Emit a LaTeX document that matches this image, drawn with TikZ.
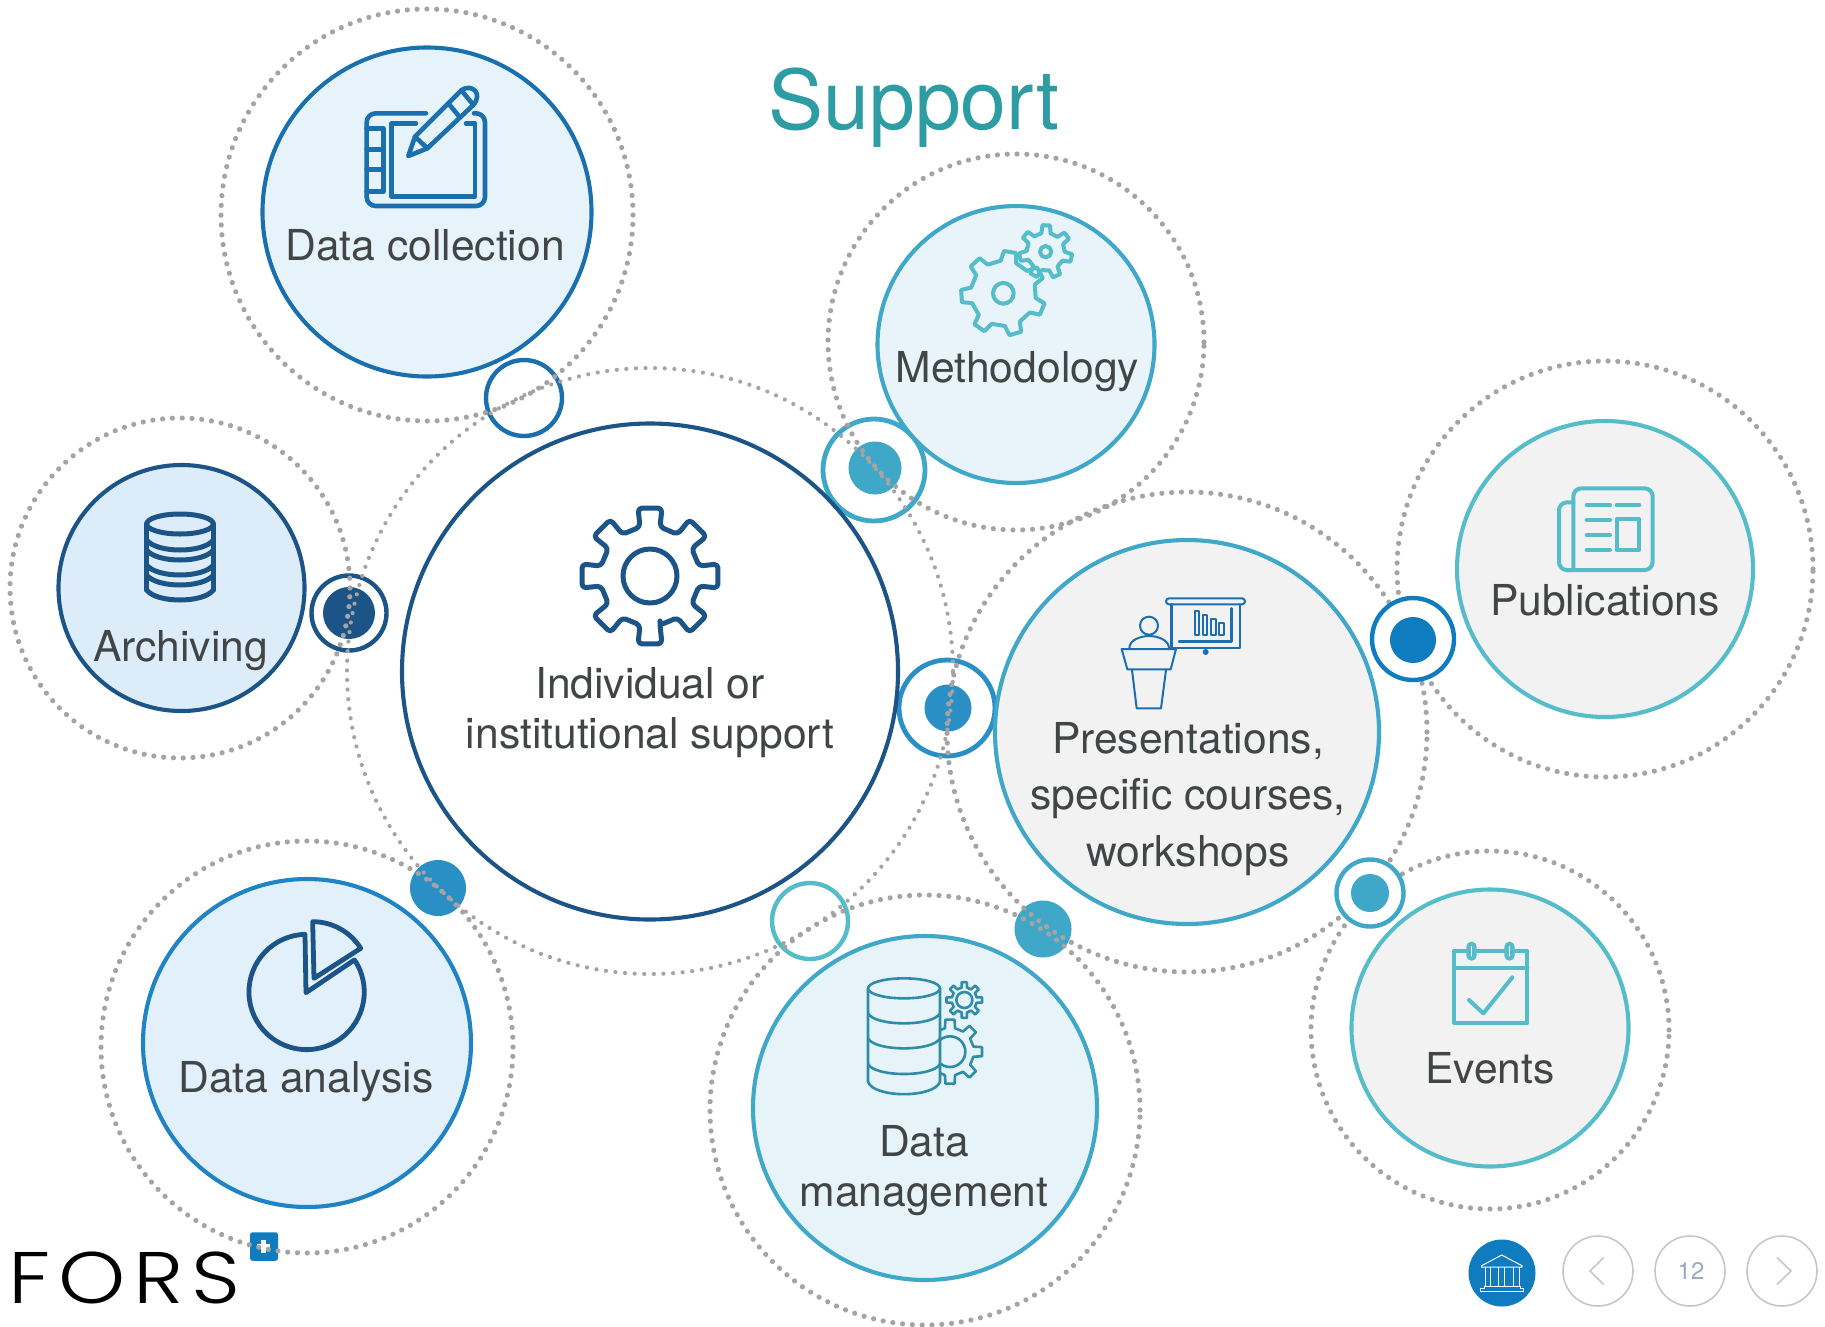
\documentclass[tikz,border=0pt]{standalone}
\usepackage{fontspec}
\setmainfont{TeX Gyre Heros}
\newfontfamily\forsfont[LetterSpace=11,FakeStretch=1.17]{Poppins Light}
\definecolor{txt}{HTML}{414546}
\definecolor{dots}{HTML}{A4A4A4}
\definecolor{navy}{HTML}{1C5488}
\definecolor{midblue}{HTML}{1A6FAE}
\definecolor{skyblue}{HTML}{1F83C5}
\definecolor{cyanb}{HTML}{3FA7C8}
\definecolor{tealb}{HTML}{54BDC9}
\definecolor{blob}{HTML}{2A8FC4}
\definecolor{solidb}{HTML}{0F7CC0}
\definecolor{paleA}{HTML}{E6F3FB}
\definecolor{paleB}{HTML}{E8F4F9}
\definecolor{paleC}{HTML}{DCEDF9}
\definecolor{paleD}{HTML}{E1F0FA}
\definecolor{paleE}{HTML}{E6F3F8}
\definecolor{greyf}{HTML}{F2F2F2}
\definecolor{titlecol}{HTML}{2E9CA3}
\definecolor{pagecol}{HTML}{9AA8C0}
\definecolor{mgmtcol}{HTML}{2F8CA8}
\tikzset{
  dotring/.style={circle,inner sep=0pt,draw=dots,line width=5.2pt,line cap=round,dash pattern=on 0.01pt off 9.8pt},
  dotringthin/.style={circle,inner sep=0pt,draw=dots,line width=4.2pt,line cap=round,dash pattern=on 0.01pt off 9.6pt},
  bubble/.style={circle,inner sep=0pt,line width=4.1pt},
  joint/.style={circle,inner sep=0pt,line width=4.4pt,fill=white},
  blobdot/.style={circle,inner sep=0pt,draw=none},
  lbl/.style={text=txt,font=\fontsize{42.6}{50}\selectfont,align=center,inner sep=0pt},
  navbtn/.style={circle,inner sep=0pt,draw=black!22,line width=1.6pt,minimum size=70pt},
  ico/.style={line join=round,line cap=round}
}
\begin{document}
\begin{tikzpicture}[x=1pt,y=-1pt]
\useasboundingbox[fill=white] (0,0) rectangle (1825,1326);

% connector discs under the dotted rings
\node[joint,draw=midblue,minimum size=76pt] (jA) at (524,398) {};
\node[joint,draw=cyanb,line width=4.8pt,minimum size=102pt] (jB) at (874,470) {};
\node[blobdot,fill=cyanb,minimum size=53pt] (jBi) at (875,468) {};
\node[joint,draw=navy,minimum size=75pt] (jC) at (349,613) {};
\node[blobdot,fill=navy,minimum size=52pt] (jCi) at (349,613) {};
\node[joint,draw=blob,line width=4.8pt,minimum size=96pt] (jD) at (947,708) {};
\node[blobdot,fill=blob,minimum size=47pt] (jDi) at (948,708) {};
\node[blobdot,fill=blob,minimum size=56pt] (jG) at (438,888) {};
\node[blobdot,fill=cyanb,minimum size=57pt] (jH) at (1043,929) {};
\node[joint,draw=tealb,minimum size=76pt] (jI) at (810,921) {};

% plus badge
\node[fill=solidb,rounded corners=2.5pt,minimum width=28pt,minimum height=28.5pt,inner sep=0pt] (badge) at (264,1246.5) {};
\node[fill=white,minimum width=13pt,minimum height=4.5pt,inner sep=0pt] (plusH) at (263.5,1246) {};
\node[fill=white,minimum width=4.5pt,minimum height=13pt,inner sep=0pt] (plusV) at (263.5,1246) {};

% dotted rings
\node[dotring,minimum size=412pt] (rCollect) at (427,215) {};
\node[dotring,minimum size=376pt] (rMethod) at (1016,342) {};
\node[dotringthin,minimum size=606pt] (rCentre) at (650,671) {};
\node[dotring,minimum size=340pt] (rArch) at (180,588) {};
\node[dotring,minimum size=416pt] (rPub) at (1605,569) {};
\node[dotring,minimum size=480pt] (rPres) at (1187,732) {};
\node[dotring,minimum size=358pt] (rEvents) at (1490,1030) {};
\node[dotring,minimum size=412pt] (rAnalysis) at (307,1047) {};
\node[dotring,minimum size=430pt] (rMgmt) at (925,1110) {};

% connector discs above the dotted rings
\node[joint,draw=solidb,minimum size=82pt] (jE) at (1413,639) {};
\node[blobdot,fill=solidb,minimum size=46pt] (jEi) at (1413,640) {};
\node[joint,draw=cyanb,minimum size=67pt] (jF) at (1370,893) {};
\node[blobdot,fill=cyanb,minimum size=38pt] (jFi) at (1370,893) {};

% main bubbles
\node[bubble,draw=midblue,fill=paleA,minimum size=329pt] (bCollect) at (427,212) {};
\node[bubble,draw=cyanb,fill=paleB,minimum size=277pt] (bMethod) at (1016,344.5) {};
\node[bubble,draw=navy,fill=white,minimum size=496pt] (bCentre) at (650,671.5) {};
\node[bubble,draw=navy,fill=paleC,minimum size=246pt] (bArch) at (181.5,588) {};
\node[bubble,draw=tealb,fill=greyf,minimum size=296pt] (bPub) at (1605,569) {};
\node[bubble,draw=cyanb,fill=greyf,minimum size=384pt] (bPres) at (1187,732) {};
\node[bubble,draw=tealb,fill=greyf,minimum size=277pt] (bEvents) at (1490,1028) {};
\node[bubble,draw=skyblue,fill=paleD,minimum size=328pt] (bAnalysis) at (307,1043) {};
\node[bubble,draw=cyanb,fill=paleE,minimum size=344pt] (bMgmt) at (925,1108) {};

% Data collection icon
\begin{scope}[shift={(330,60)},x=0.3333pt,y=-0.3333pt,ico,draw=midblue,line width=4.6pt]
  \draw[rounded corners=9pt] (288,160) -- (110,160) -- (110,438) -- (465,438) -- (465,160) -- (432,160);
  \draw (258,190) -- (185,190) -- (185,410) -- (435,410) -- (435,190) -- (408,190);
  \draw (110,205) -- (160,205) -- (160,395) -- (110,395);
  \draw (110,268) -- (160,268) (110,328) -- (160,328);
  \draw (255,230) -- (395,90) .. controls (425,70) and (460,100) .. (430,135) -- (292,265) -- (235,288) -- cycle;
  \draw (255,230) -- (292,265) (355,130) -- (388,170) (395,92) -- (428,132);
\end{scope}

% Methodology icon
\begin{scope}[shift={(940,210)},x=0.3333pt,y=-0.3333pt,ico,draw=tealb,line width=4pt]
  \pgfmathsetmacro\gs{360/7}
  \draw[shift={(317,125)}] ({14-0.27*\gs}:57) \foreach \i in {0,...,6} { -- ({14+\i*\gs-0.27*\gs}:57) -- ({14+\i*\gs-0.16*\gs}:80) -- ({14+\i*\gs+0.16*\gs}:80) -- ({14+\i*\gs+0.27*\gs}:57)} -- cycle;
  \draw (317,125) circle[radius=17];
  \draw[shift={(190,250)}] ({22-0.27*\gs}:98) \foreach \i in {0,...,6} { -- ({22+\i*\gs-0.27*\gs}:98) -- ({22+\i*\gs-0.16*\gs}:127) -- ({22+\i*\gs+0.16*\gs}:127) -- ({22+\i*\gs+0.27*\gs}:98)} -- cycle;
  \draw (190,250) circle[radius=31];
\end{scope}

% Central gear
\begin{scope}[shift={(650,576)},ico,draw=navy,line width=5pt]
  \draw[rounded corners=4pt] (90-11.5:50) \foreach \i in {0,...,7} { -- ({90+\i*45-11.5}:50) -- ({90+\i*45-10}:69) -- ({90+\i*45+10}:69) -- ({90+\i*45+11.5}:50)} -- cycle;
  \draw (0,0) circle[radius=27];
\end{scope}

% Archiving icon
\begin{scope}[shift={(130,500)},x=0.3333pt,y=-0.3333pt,ico,draw=navy,line width=5pt]
  \draw (150,72) ellipse[x radius=100,y radius=30];
  \draw (50,72) -- (50,270) (250,72) -- (250,270);
  \foreach \yy in {120,150,195,225,270} { \draw (50,\yy) .. controls (80,{\yy+40}) and (220,{\yy+40}) .. (250,\yy); }
\end{scope}

% Publications icon
\begin{scope}[shift={(1540,470)},x=0.3333pt,y=-0.3333pt,ico,draw=tealb,line width=4pt]
  \draw[rounded corners=8pt] (100,300) -- (100,55) -- (338,55) -- (338,300) -- (80,300);
  \draw[rounded corners=8pt] (100,97) -- (57,97) -- (57,300) -- (100,300);
  \draw (140,105) -- (210,105) (230,105) -- (298,105) (140,150) -- (210,150) (140,195) -- (210,195) (140,240) -- (210,240);
  \draw (230,148) rectangle (298,240);
\end{scope}

% Presentations icon
\begin{scope}[shift={(1100,580)},x=0.3333pt,y=-0.3333pt,ico,draw=midblue,line width=2pt]
  \draw[rounded corners=3pt] (198,55) rectangle (435,73);
  \draw[line width=2.6pt] (215,73) -- (215,204) -- (420,204) -- (420,73);
  \draw (285,92) rectangle (298,165) (310,105) rectangle (322,165) (334,118) rectangle (347,165) (358,130) rectangle (371,165);
  \draw[line width=2.4pt] (237,185) -- (395,185) -- (395,85);
  \fill[midblue] (317,216) circle[radius=9];
  \draw (147,137) circle[radius=27];
  \draw (88,205) .. controls (88,178) and (125,168) .. (147,168) .. controls (170,168) and (207,178) .. (207,205);
  \draw (65,207) -- (228,207) -- (212,268) -- (82,268) -- cycle;
  \draw (96,270) -- (110,385) -- (183,385) -- (198,270);
\end{scope}

% Events icon
\begin{scope}[shift={(1430,930)},x=0.3333pt,y=-0.3333pt,ico,draw=tealb,line width=4pt]
  \draw (72,62) rectangle (292,278);
  \draw (72,113) -- (292,113);
  \fill[tealb,rounded corners=5pt] (109,35) rectangle (140,92) (223,35) rectangle (254,92);
  \draw[white,line width=1.2pt] (124,50) -- (124,77) (238,50) -- (238,77);
  \draw[tealb] (117,210) -- (160,250) -- (247,142);
\end{scope}

% Data analysis icon
\begin{scope}[shift={(230,900)},x=0.3333pt,y=-0.3333pt,ico,draw=navy,line width=4.8pt]
  \draw (373,180) -- (228,278) -- (225,103) arc[start angle=-91.6,end angle=-393.6,radius=173];
  \draw (248,65) arc[start angle=-90,end angle=-32,radius=170] -- (252,235) -- cycle;
\end{scope}

% Data management icon
\begin{scope}[shift={(850,960)},x=0.3333pt,y=-0.3333pt,ico,draw=mgmtcol,line width=2.6pt]
  \draw[shift={(343,120)}] ({90-0.27*45}:38) \foreach \i in {0,...,7} { -- ({90+\i*45-0.27*45}:38) -- ({90+\i*45-0.18*45}:54) -- ({90+\i*45+0.18*45}:54) -- ({90+\i*45+0.27*45}:38)} -- cycle;
  \draw (343,120) circle[radius=24];
  \draw[shift={(300,275)}] ({90-0.27*45}:72) \foreach \i in {0,...,7} { -- ({90+\i*45-0.27*45}:72) -- ({90+\i*45-0.18*45}:97) -- ({90+\i*45+0.18*45}:97) -- ({90+\i*45+0.27*45}:72)} -- cycle;
  \draw (300,275) circle[radius=46];
  \filldraw[fill=paleE] (54,85) -- (54,365) .. controls (70,415) and (254,415) .. (270,365) -- (270,85) -- cycle;
  \filldraw[fill=paleE] (162,85) ellipse[x radius=108,y radius=30];
  \foreach \yy in {160,235,312} { \draw (54,\yy) .. controls (75,{\yy+40}) and (249,{\yy+40}) .. (270,\yy); }
\end{scope}

% Labels
\node[lbl] (tCollect) at (425,245) {Data collection};
\node[lbl] (tMethod) at (1017.5,371.5) {Methodology};
\node[lbl] (tCentre) at (650,712.5) {Individual or\\institutional support};
\node[lbl] (tArch) at (180.5,650.5) {Archiving};
\node[lbl] (tPub) at (1605,600) {Publications};
\node[lbl,font=\fontsize{42.6}{56.3}\selectfont] (tPres) at (1188,799) {Presentations,\\specific courses,\\workshops};
\node[lbl] (tEvents) at (1490,1068) {Events};
\node[lbl] (tAnalysis) at (306,1082) {Data analysis};
\node[lbl] (tMgmt) at (924,1171) {Data\\management};
\node[inner sep=0pt,anchor=base,text=titlecol,font=\fontsize{82.5}{90}\selectfont] (title) at (914,129) {Support};

% Logo
\node[inner sep=0pt,anchor=base west,text=black,font=\forsfont\fontsize{73}{73}\selectfont] (fors) at (8,1303) {FORS};

% Nav buttons
\node[circle,inner sep=0pt,fill=solidb,minimum size=67pt] (home) at (1502,1273) {};
\begin{scope}[white,line width=1pt,line join=round]
  \draw (1481.5,1265.7) -- (1501.7,1255) -- (1522,1265.7) -- (1522,1267) -- (1481.5,1267) -- cycle;
  \draw (1485,1267) -- (1485,1286) (1490.7,1267) -- (1490.7,1286) (1498.3,1267) -- (1498.3,1286) (1504.3,1267) -- (1504.3,1286) (1513.3,1267) -- (1513.3,1286) (1519,1267) -- (1519,1286);
  \draw (1484,1286) -- (1520,1286) -- (1520,1288.5) -- (1523,1288.5) -- (1523,1291.5) -- (1480.5,1291.5) -- (1480.5,1288.5) -- (1484,1288.5) -- cycle;
\end{scope}
\node[navbtn] (prev) at (1598,1271) {};
\node[navbtn] (page) at (1690,1271) {};
\node[navbtn] (next) at (1782,1271) {};
\draw[black!22,line width=1.6pt] (1603.7,1257.5) -- (1590,1271) -- (1603.7,1284.5);
\draw[black!22,line width=1.6pt] (1777,1257.5) -- (1791,1271) -- (1777,1284.5);
\node[inner sep=0pt,text=pagecol,font=\fontsize{24}{24}\selectfont] (pageno) at (1691,1270.5) {12};
\end{tikzpicture}
\end{document}
